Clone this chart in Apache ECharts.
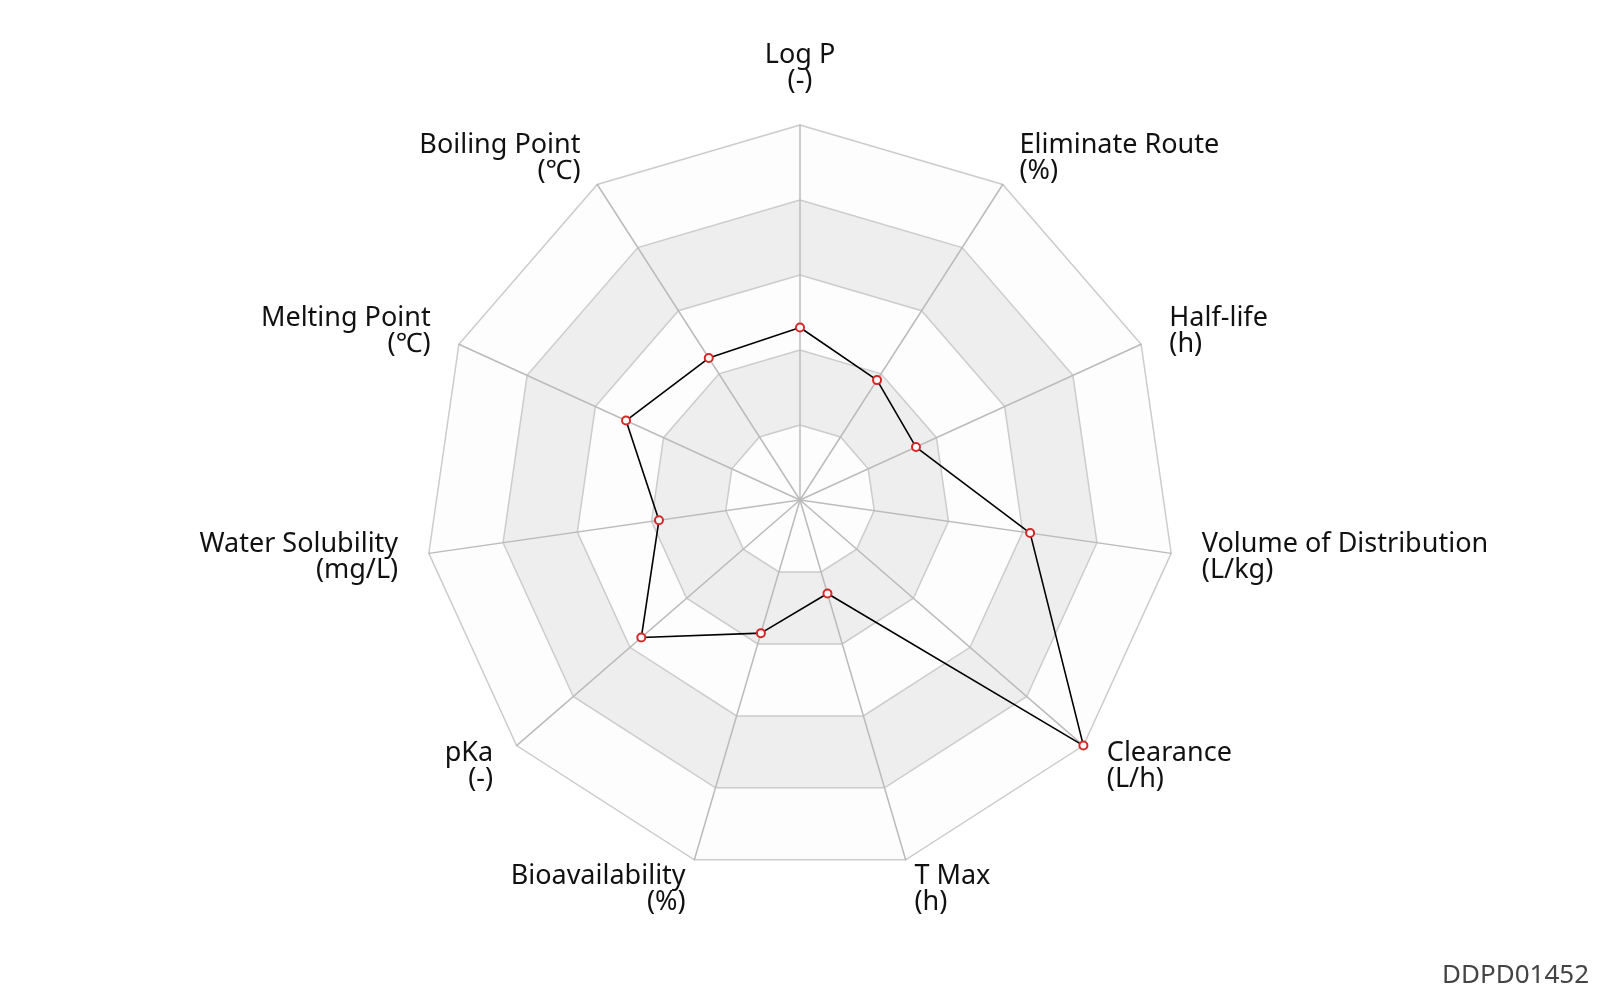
<!DOCTYPE html>
<html>
<head>
<meta charset="utf-8">
<script src="https://cdn.jsdelivr.net/npm/echarts@6/dist/echarts.min.js"></script>
<style>html,body{margin:0;padding:0;background:#fff;}#main{width:1600px;height:1000px;}</style>
</head>
<body>
<div id="main"></div>
<script>
// Indicators listed counter-clockwise starting at the top (ECharts radar order)
const indicatorNames = ['Log P', 'Boiling Point', 'Melting Point', 'Water Solubility', 'pKa', 'Bioavailability', 'T Max', 'Clearance', 'Volume of Distribution', 'Half-life', 'Eliminate Route'];
const indicatorUnits = ['(-)', '(℃)', '(℃)', '(mg/L)', '(-)', '(%)', '(h)', '(L/h)', '(L/kg)', '(h)', '(%)'];
const values = [0.46, 0.45, 0.51, 0.38, 0.56, 0.37, 0.26, 1.0, 0.62, 0.34, 0.38];
const indicatorMax = 1;
const watermark = 'DDPD01452';

const chart = echarts.init(document.getElementById('main'), null, {renderer: 'canvas'});
chart.setOption({
  backgroundColor: '#ffffff',
  animation: false,
  textStyle: {fontFamily: '"Noto Sans", sans-serif'},
  graphic: [{
    type: 'text', right: 11, bottom: 11,
    style: {text: watermark, fontSize: 26, fill: '#444', fontFamily: '"Noto Sans", sans-serif'}
  }],
  radar: {
    center: ['50%', '50%'],
    radius: '75%',
    startAngle: 90,
    splitNumber: 5,
    shape: 'polygon',
    indicator: indicatorNames.map((n, i) => ({name: n + '\n' + indicatorUnits[i], max: indicatorMax, min: 0})),
    axisName: {color: '#111', fontSize: 27, lineHeight: 26, fontFamily: '"Noto Sans", sans-serif'},
    nameGap: 31,
    axisLine: {lineStyle: {color: '#bbb', width: 1.5}},
    splitLine: {lineStyle: {color: '#ccc', width: 1.5}},
    splitArea: {show: true, areaStyle: {color: ['rgba(250,250,250,0.3)', 'rgba(200,200,200,0.3)']}}
  },
  series: [{
    type: 'radar',
    symbol: 'emptyCircle',
    symbolSize: 8,
    lineStyle: {color: '#000', width: 1.6},
    itemStyle: {color: '#d62728', borderWidth: 1.8},
    data: [{value: values, name: 'drug'}]
  }]
});
</script>
</body>
</html>
